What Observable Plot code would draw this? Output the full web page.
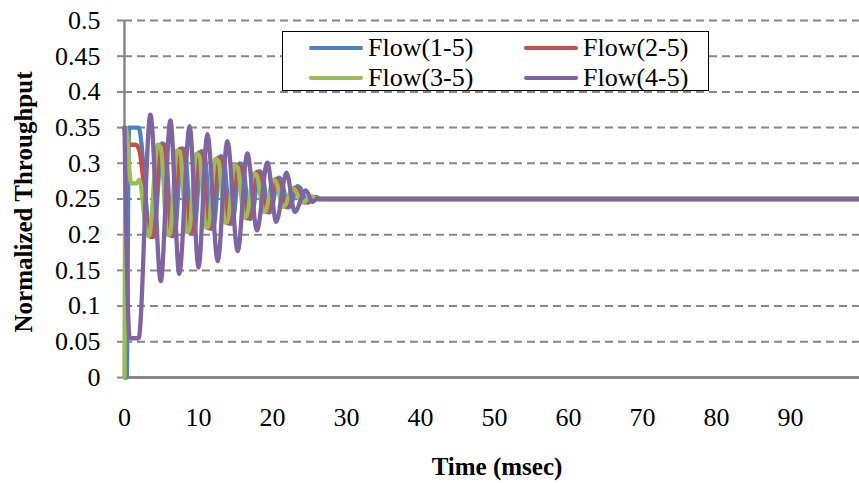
<!DOCTYPE html>
<html>
<head>
<meta charset="utf-8">
<script src="https://cdn.jsdelivr.net/npm/d3@7"></script>
<script src="https://cdn.jsdelivr.net/npm/@observablehq/plot@0.6"></script>
<style>
  html, body { margin: 0; padding: 0; background: #fff; }
  #wrap { position: relative; width: 859px; height: 483px; overflow: hidden; font-family: 'Liberation Serif', 'DejaVu Serif', serif; }
  #wrap svg, #wrap svg text { font-family: 'Liberation Serif', 'DejaVu Serif', serif !important; }
  #legend { position: absolute; left: 282px; top: 31px; width: 425px; height: 58px; border: 1.5px solid #000; background: #fff; }
  .item { position: absolute; height: 30px; display: flex; align-items: center; font-size: 26px; color: #000; font-family: 'Liberation Serif', 'DejaVu Serif', serif; }
  .sw { display: inline-block; width: 54px; height: 4px; border-radius: 2px; margin-right: 5px; }
</style>
</head>
<body>
<div id="wrap"></div>
<script>
// ---- data ----
const seriesNames = ["Flow(1-5)", "Flow(2-5)", "Flow(3-5)", "Flow(4-5)"];
const seriesColors = ["#4F81BD", "#C0504D", "#9BBB59", "#8064A2"];

const flow15T = [0, 0.3, 0.6, 1.9, 3.5, 3.9, 5.1, 5.5, 6.4, 6.75, 7.75, 8.15, 9.05, 9.4, 10.4, 10.8, 11.7, 12.0, 13.0, 13.4, 14.3, 14.6, 15.6, 16.0, 16.9, 17.2, 18.2, 18.6, 19.5, 19.8, 20.8, 21.2, 22.1, 22.4, 23.4, 23.8, 24.7, 25.0, 25.8, 26.5, 100];
const flow15V = [0, 0, 0.35, 0.35, 0.198, 0.197, 0.328, 0.325, 0.198, 0.198, 0.321, 0.319, 0.202, 0.203, 0.317, 0.315, 0.208, 0.209, 0.310, 0.307, 0.215, 0.216, 0.300, 0.297, 0.222, 0.224, 0.289, 0.286, 0.231, 0.233, 0.280, 0.277, 0.238, 0.240, 0.268, 0.265, 0.245, 0.246, 0.253, 0.25, 0.25];

const flow25T = [0, 0.4, 1.5, 2.0, 3.5, 3.8, 4.85, 5.25, 6.15, 6.45, 7.45, 7.85, 8.75, 9.05, 10.05, 10.45, 11.35, 11.65, 12.65, 13.05, 13.95, 14.25, 15.25, 15.65, 16.55, 16.85, 17.85, 18.25, 19.15, 19.45, 20.45, 20.85, 21.75, 22.05, 23.05, 23.45, 24.35, 24.65, 25.5, 26.2, 100];
const flow25V = [0.35, 0.326, 0.326, 0.318, 0.197, 0.197, 0.326, 0.324, 0.199, 0.199, 0.320, 0.318, 0.203, 0.204, 0.315, 0.313, 0.209, 0.210, 0.308, 0.305, 0.216, 0.217, 0.298, 0.295, 0.223, 0.225, 0.288, 0.285, 0.232, 0.234, 0.278, 0.275, 0.239, 0.241, 0.266, 0.263, 0.245, 0.247, 0.253, 0.25, 0.25];

const flow35T = [0, 0.15, 0.9, 1.6, 2.0, 3.0, 3.3, 4.5, 4.9, 5.8, 6.1, 7.1, 7.5, 8.4, 8.7, 9.7, 10.1, 11.0, 11.3, 12.3, 12.7, 13.6, 13.9, 14.9, 15.3, 16.2, 16.5, 17.5, 17.9, 18.8, 19.1, 20.1, 20.5, 21.4, 21.7, 22.7, 23.1, 24.0, 24.3, 25.2, 26.0, 100];
const flow35V = [0, 0.35, 0.272, 0.272, 0.277, 0.202, 0.198, 0.326, 0.322, 0.200, 0.200, 0.318, 0.316, 0.204, 0.205, 0.313, 0.311, 0.210, 0.211, 0.306, 0.303, 0.217, 0.218, 0.297, 0.294, 0.224, 0.226, 0.286, 0.283, 0.232, 0.234, 0.277, 0.274, 0.239, 0.241, 0.265, 0.262, 0.245, 0.246, 0.254, 0.25, 0.25];

const flow45T = [0, 0.7, 1.9, 3.5, 4.9, 6.2, 7.4, 8.8, 10.0, 11.2, 12.6, 13.9, 15.3, 16.6, 17.9, 19.3, 20.5, 21.9, 23.0, 24.5, 25.4, 26.0, 100];
const flow45V = [0.35, 0.055, 0.055, 0.368, 0.135, 0.360, 0.145, 0.352, 0.154, 0.341, 0.163, 0.331, 0.177, 0.314, 0.206, 0.301, 0.218, 0.287, 0.232, 0.262, 0.246, 0.25, 0.25];

const xTicks = [0, 10, 20, 30, 40, 50, 60, 70, 80, 90];
const xTickLabels = ["0", "10", "20", "30", "40", "50", "60", "70", "80", "90"];
const yTicks = [0, 0.05, 0.1, 0.15, 0.2, 0.25, 0.3, 0.35, 0.4, 0.45, 0.5];
const yTickLabels = ["0", "0.05", "0.1", "0.15", "0.2", "0.25", "0.3", "0.35", "0.4", "0.45", "0.5"];
const xTitle = "Time (msec)";
const yTitle = "Normalized Throughput";

// ---- build table ----
const seriesT = [flow15T, flow25T, flow35T, flow45T];
const seriesV = [flow15V, flow25V, flow35V, flow45V];
const rows = [];
seriesNames.forEach((name, s) => {
  seriesT[s].forEach((t, i) => rows.push({series: name, t, v: seriesV[s][i]}));
});

const FONT = "'Liberation Serif', 'DejaVu Serif', serif";
const grey = "#878787";
const chart = Plot.plot({
  width: 859,
  height: 483,
  marginLeft: 124,
  marginRight: 0,
  marginTop: 20,
  marginBottom: 106,
  style: {fontFamily: FONT, fontSize: "26px", color: "#000", background: "#fff", overflow: "hidden"},
  x: {domain: [0, 100], range: [124, 864], ticks: xTicks, tickSize: 0, tickPadding: 30,
      tickFormat: d => xTickLabels[xTicks.indexOf(d)], label: null},
  y: {domain: [0, 0.5], ticks: yTicks, tickSize: 7, tickPadding: 17,
      tickFormat: d => yTickLabels[yTicks.indexOf(d)], label: null},
  color: {domain: seriesNames, range: seriesColors},
  marks: [
    Plot.ruleY(yTicks.filter(d => d > 0), {stroke: grey, strokeWidth: 2, strokeDasharray: "8,5"}),
    Plot.ruleX([0], {stroke: grey, strokeWidth: 2.5}),
    Plot.ruleY([0], {stroke: grey, strokeWidth: 3}),
    Plot.line(rows, {x: "t", y: "v", z: "series", stroke: "series", strokeWidth: 4.3,
      curve: "monotone-x", strokeLinejoin: "round", strokeLinecap: "round"}),
    Plot.text([xTitle], {frameAnchor: "bottom", text: d => d, dx: 5, dy: 89,
      textAnchor: "middle", lineAnchor: "middle", fontWeight: "bold", fontSize: 25}),
    Plot.text([yTitle], {frameAnchor: "left", text: d => d, dx: -101, dy: 3,
      textAnchor: "middle", lineAnchor: "middle", rotate: -90, fontWeight: "bold", fontSize: 25})
  ]
});
document.getElementById("wrap").appendChild(chart);
// grey tick marks on the y axis
d3.select(chart).selectAll('[aria-label="y-axis tick"] path, [aria-label="y-axis"] .tick line')
  .attr("stroke", grey).attr("stroke-width", 2);

// ---- legend ----
const legend = document.createElement("div");
legend.id = "legend";
const pos = [[26, 1], [241, 1], [26, 31], [241, 31]];
[0, 1, 2, 3].forEach((s, k) => {
  const it = document.createElement("div");
  it.className = "item";
  it.style.left = pos[k][0] + "px";
  it.style.top = pos[k][1] + "px";
  const sw = document.createElement("span");
  sw.className = "sw";
  sw.style.background = seriesColors[s];
  it.appendChild(sw);
  it.appendChild(document.createTextNode(seriesNames[s]));
  legend.appendChild(it);
});
document.getElementById("wrap").appendChild(legend);
</script>
</body>
</html>
